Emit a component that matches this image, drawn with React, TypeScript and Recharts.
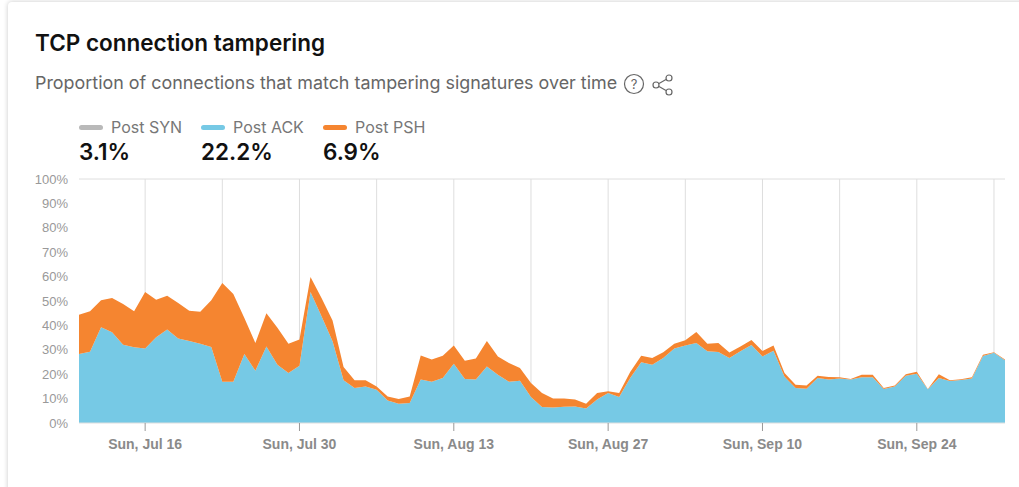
import React from "react";
import { Area, AreaChart, CartesianGrid, XAxis, YAxis } from "recharts";

// daily values, Jul 10 to Oct 2
const postAck = [
  28.3, 29.2, 39.2, 37.2, 32.1, 31, 30.5, 35.1, 38.3, 34.6, 33.6, 32.5, 31.1, 16.9, 16.9, 28.3, 21.4,
  31.4, 23.9, 20.5, 23.5, 53.7, 43.7, 33.5, 17.5, 14.3, 15, 13.6, 9.2, 7.9, 8.2, 17.8, 16.9, 18.4, 24.3,
  18, 17.8, 23.2, 19.8, 16.9, 17.3, 10.7, 6.6, 6.4, 6.7, 6.8, 5.9, 9.6, 12.3, 10.7, 18.4, 24.9, 23.9,
  26.6, 30.5, 31.8, 32.8, 29.4, 29.1, 26.6, 29.4, 32, 27.3, 29.6, 19, 14.3, 14, 18.4, 17.8, 18.2, 17.8,
  18.8, 18.8, 13.9, 15, 19.4, 20.2, 13.8, 18.4, 17.2, 17.6, 18.2, 27.5, 28.8, 25.7,
];
const postPsh = [
  16.1, 16.6, 11.1, 14, 16.7, 14.8, 23.2, 15.4, 13.9, 14.6, 12.4, 13.1, 19.2, 40.5, 36, 14.7, 11.4,
  13.6, 15.1, 12, 10.7, 6.1, 7.5, 8.5, 5.5, 3.2, 2.5, 1.4, 1.7, 1.9, 2.7, 9.9, 9.1, 9.2, 7.5, 7.5, 8.6,
  10.4, 7.5, 7.7, 5.2, 5.7, 5.7, 3.6, 3.3, 2.8, 2, 2.7, 0.7, 1.6, 2.5, 2.7, 2.7, 2.4, 2, 2.1, 4.5, 3.1,
  3.7, 2.3, 2, 2, 2.2, 2.2, 1.5, 1.4, 1.4, 1, 1.1, 0.5, 0.2, 1, 1, 0.4, 0.4, 0.6, 0.8, 0.1, 1.6, 0.3,
  0.3, 0.5, 0.5, 0.2, 0.3,
];
const percentTicks = [0, 10, 20, 30, 40, 50, 60, 70, 80, 90, 100];
const labelDays = [6, 20, 34, 48, 62, 76];
const tickLabels = ["Sun, Jul 16", "Sun, Jul 30", "Sun, Aug 13", "Sun, Aug 27", "Sun, Sep 10", "Sun, Sep 24"];
const sundays = [6, 13, 20, 27, 34, 41, 48, 55, 62, 69, 76, 83];
const legendNames = ["Post SYN", "Post ACK", "Post PSH"];
const legendValues = ["3.1%", "22.2%", "6.9%"];
const legendColors = ["#B9B9B9", "#76C9E5", "#F58530"];

const chartData = postAck.map((ack, day) => ({ day, ack, psh: postPsh[day] }));

const font = "Inter, sans-serif";

const App = () => {
  return (
    <div
      style={{
        position: "absolute",
        left: 0,
        top: 0,
        width: 1019,
        height: 487,
        overflow: "hidden",
        background: "#fff",
        fontFamily: font,
      }}
    >
      {/* card edge */}
      <div
        style={{
          position: "absolute",
          left: 8,
          top: 2,
          width: 1100,
          height: 600,
          borderRadius: 4,
          boxShadow: "0 0 5px rgba(0,0,0,0.22)",
        }}
      />
      <div
        style={{
          position: "absolute",
          left: 35,
          top: 29,
          fontSize: 22.5,
          fontWeight: 600,
          color: "#111",
          whiteSpace: "nowrap",
        }}
      >
        TCP connection tampering
      </div>
      <div style={{ position: "absolute", left: 35, top: 72, fontSize: 17.9, color: "#666", whiteSpace: "nowrap" }}>
        Proportion of connections that match tampering signatures over time
      </div>
      <svg style={{ position: "absolute", left: 622, top: 72 }} width="54" height="24">
        <circle cx="12" cy="12" r="9.5" fill="none" stroke="#666" strokeWidth="1.2" />
        <text x="12" y="16.5" textAnchor="middle" fontSize="13" fill="#666" fontFamily={font}>
          ?
        </text>
        <g fill="none" stroke="#666" strokeWidth="1.2">
          <circle cx="34" cy="13" r="3" />
          <circle cx="47" cy="6" r="3" />
          <circle cx="47" cy="20" r="3" />
          <path d="M37 11.5 L44 7.5 M37 14.5 L44 18.5" />
        </g>
      </svg>

      {legendNames.map((name, i) => (
        <div key={name} style={{ position: "absolute", left: 79 + i * 122, top: 117 }}>
          <div style={{ display: "flex", alignItems: "center", fontSize: 16, color: "#777", whiteSpace: "nowrap" }}>
            <span
              style={{
                width: 24,
                height: 5,
                borderRadius: 3,
                marginRight: 8,
                background: legendColors[i],
              }}
            />
            {name}
          </div>
          <div style={{ fontSize: 22.5, fontWeight: 600, color: "#111", marginTop: 1 }}>{legendValues[i]}</div>
        </div>
      ))}

      <div style={{ position: "absolute", left: 0, top: 170 }}>
        <AreaChart
          width={1019}
          height={300}
          data={chartData}
          margin={{ top: 9, right: 14, bottom: 0, left: 33 }}
        >
          <CartesianGrid
            horizontalValues={[100]}
            verticalValues={sundays}
            stroke="#DEDEDE"
            strokeWidth={1}
          />
          <XAxis
            dataKey="day"
            type="number"
            domain={[0, 84]}
            ticks={labelDays}
            tickFormatter={(day: number) => tickLabels[labelDays.indexOf(day)]}
            interval={0}
            height={47}
            axisLine={{ stroke: "#DEDEDE" }}
            tickLine={{ stroke: "#999" }}
            tickSize={8}
            tickMargin={8}
            tick={{ fontSize: 14, fontWeight: 700, fill: "#8A8A8A", fontFamily: "Liberation Sans" }}
          />
          <YAxis
            type="number"
            domain={[0, 100]}
            ticks={percentTicks}
            tickFormatter={(v: number) => `${v}%`}
            width={46}
            axisLine={false}
            tickLine={false}
            tickMargin={5}
            tick={{ fontSize: 13, fill: "#999", fontFamily: "Liberation Sans" }}
          />
          <Area
            dataKey="ack"
            stackId="a"
            type="linear"
            stroke="none"
            fill="#76C9E5"
            fillOpacity={1}
            isAnimationActive={false}
          />
          <Area
            dataKey="psh"
            stackId="a"
            type="linear"
            stroke="none"
            fill="#F58530"
            fillOpacity={1}
            isAnimationActive={false}
          />
        </AreaChart>
      </div>
    </div>
  );
};

export default App;
